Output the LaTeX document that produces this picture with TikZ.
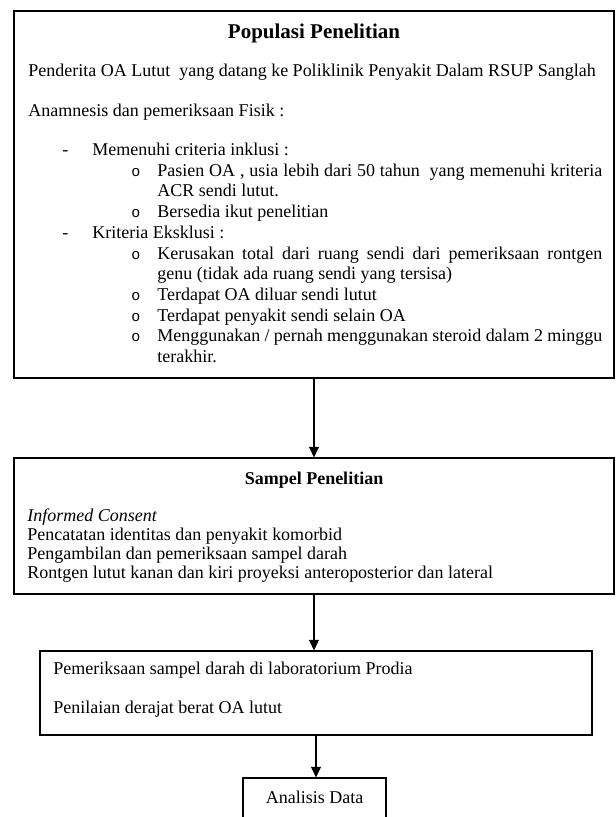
\documentclass[tikz,border=0pt]{standalone}
\usepackage{fontspec}
\setmainfont{Liberation Serif}
\newfontfamily\bulfont{Liberation Mono}
\usetikzlibrary{arrows.meta,fit,backgrounds}

\begin{document}
\begin{tikzpicture}[x=0.6667pt,y=-0.6667pt]
\tikzstyle{box}=[draw=black, line width=0.7pt, inner sep=0pt]
\tikzstyle{txt}=[anchor=base west, inner sep=0pt, font=\fontsize{12}{14}\selectfont]
\tikzstyle{head}=[anchor=base, inner sep=0pt, font=\fontsize{12}{14}\selectfont\bfseries]
\tikzstyle{bul}=[anchor=base west, inner sep=0pt, font=\fontsize{10}{12}\bulfont]
\tikzstyle{conn}=[line width=0.7pt, -{Triangle[length=7pt,width=6.5pt]}]
\useasboundingbox (0,0) rectangle (615,817);

% kotak-kotak
\node (pop) [box, fit={(14,11) (614,378)}] {};
\node (sampel) [box, fit={(14,458) (614,594)}] {};
\node (lab) [box, fit={(40,651) (592,735)}] {};
\node (analisis) [box, fit={(243,778) (386,835)}] {};

% populasi
\node (judul1) [head, font=\fontsize{14}{16}\selectfont\bfseries] at (314,39) {Populasi Penelitian};
\node (pend) [txt] at (28,77) {Penderita OA Lutut\ \ yang datang ke Poliklinik Penyakit Dalam RSUP Sanglah};
\node (anam) [txt] at (28,116) {Anamnesis dan pemeriksaan Fisik :};
\node (d1) [txt] at (62,155) {-};
\node (inkl) [txt] at (92,155) {Memenuhi criteria inklusi :};
\node (o1) [bul] at (131,176) {o};
\node (inkl1) [txt] at (157,176) {\makebox[296.7pt][s]{Pasien OA , usia lebih dari 50 tahun\ \ yang memenuhi kriteria}};
\node (inkl1b) [txt] at (157,196) {ACR sendi lutut.};
\node (o2) [bul] at (131,217) {o};
\node (inkl2) [txt] at (157,217) {Bersedia ikut penelitian};
\node (d2) [txt] at (62,238) {-};
\node (eksk) [txt] at (92,238) {Kriteria Eksklusi :};
\node (o3) [bul] at (131,259) {o};
\node (eksk1) [txt] at (157,259) {\makebox[296.7pt][s]{Kerusakan total dari ruang sendi dari pemeriksaan rontgen}};
\node (eksk1b) [txt] at (157,279) {genu (tidak ada ruang sendi yang tersisa)};
\node (o4) [bul] at (131,300) {o};
\node (eksk2) [txt] at (157,300) {Terdapat OA diluar sendi lutut};
\node (o5) [bul] at (131,321) {o};
\node (eksk3) [txt] at (157,321) {Terdapat penyakit sendi selain OA};
\node (o6) [bul] at (131,341) {o};
\node (eksk4) [txt] at (157,341) {\makebox[296.7pt][s]{Menggunakan / pernah menggunakan steroid dalam 2 minggu}};
\node (eksk4b) [txt] at (157,362) {terakhir.};

% sampel
\node (judul2) [head] at (314,484) {Sampel Penelitian};
\node (inf) [txt] at (27,521) {\itshape Informed Consent};
\node (cat) [txt] at (27,540) {Pencatatan identitas dan penyakit komorbid};
\node (amb) [txt] at (27,559) {Pengambilan dan pemeriksaan sampel darah};
\node (ront) [txt] at (27,578) {Rontgen lutut kanan dan kiri proyeksi anteroposterior dan lateral};

% laboratorium
\node (periksa) [txt] at (53,674) {Pemeriksaan sampel darah di laboratorium Prodia};
\node (nilai) [txt] at (53,713) {Penilaian derajat berat OA lutut};

\node (data) [anchor=base, inner sep=0pt, font=\fontsize{12}{14}\selectfont] at (314.5,803) {Analisis Data};

% panah
\draw [conn] (pop.south) -- (pop.south |- sampel.north);
\draw [conn] (sampel.south) -- (sampel.south |- lab.north);
\draw [conn] (lab.south) -- (lab.south |- analisis.north);
\end{tikzpicture}
\end{document}
